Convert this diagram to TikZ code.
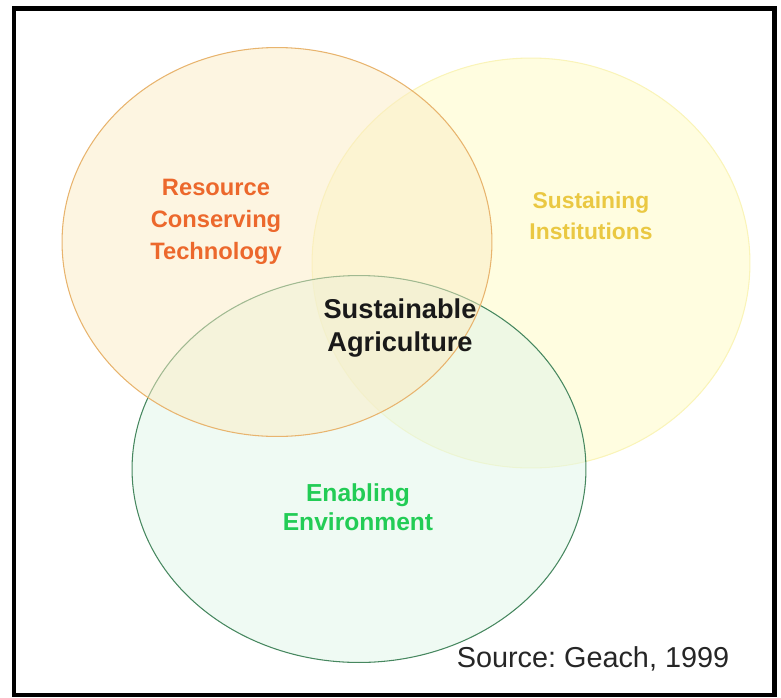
\documentclass[tikz,border=0pt]{standalone}
\usepackage{fontspec}
\setmainfont{Liberation Sans}
\usetikzlibrary{shapes.geometric}

\definecolor{techline}{RGB}{232,180,110}
\definecolor{techfill}{RGB}{251,236,196}
\definecolor{instline}{RGB}{250,244,185}
\definecolor{instfill}{RGB}{255,253,218}
\definecolor{envline}{RGB}{70,135,95}
\definecolor{envfill}{RGB}{226,246,233}
\definecolor{techtext}{RGB}{236,104,44}
\definecolor{insttext}{RGB}{234,200,66}
\definecolor{envtext}{RGB}{34,204,85}

\begin{document}
\begin{tikzpicture}[x=0.02cm,y=-0.02cm,
                    circ/.style={ellipse,inner sep=0pt,outer sep=0pt,line width=0.6pt},
                    lbl/.style={align=center,font=\bfseries}]
            \useasboundingbox (0,0) rectangle (781,697);

            \node[circ,draw=instline,fill=instfill,fill opacity=0.85,
                  minimum width=8.76cm,minimum height=8.2cm] (inst) at (531,263) {};
            \node[circ,draw=envline,fill=envfill,fill opacity=0.55,
                  minimum width=9.08cm,minimum height=7.74cm] (env) at (359,469) {};
            \node[circ,draw=techline,fill=techfill,fill opacity=0.5,
                  minimum width=8.6cm,minimum height=7.78cm] (tech) at (277,242) {};

            \node[lbl,text=techtext,font=\bfseries\fontsize{13.5}{18.1}\selectfont]
                  (techlbl) at (216,222) {Resource\\Conserving\\Technology};
            \node[lbl,text=insttext,font=\bfseries\fontsize{13}{17.6}\selectfont]
                  (instlbl) at (591,216) {Sustaining\\Institutions};
            \node[lbl,text=black!90,font=\bfseries\fontsize{15.5}{19.3}\selectfont]
                  (agri) at (400,328) {Sustainable\\Agriculture};
            \node[lbl,text=envtext,font=\bfseries\fontsize{14}{16.5}\selectfont]
                  (envlbl) at (358,507) {Enabling\\Environment};
            \node[font=\fontsize{16.4}{19}\selectfont\frenchspacing,text=black!85]
                  (source) at (593,659) {Source: Geach, 1999};

            \draw[line width=2.8pt] (14,8.5) rectangle (774.5,695);
        \end{tikzpicture}
\end{document}
